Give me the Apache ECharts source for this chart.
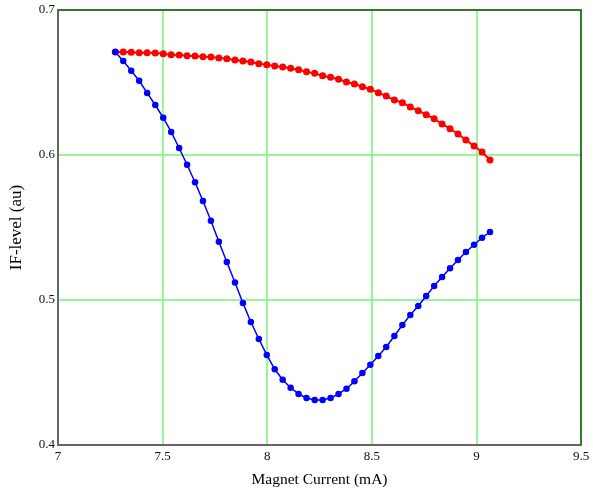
<!DOCTYPE html>
<html>
<head>
<meta charset="utf-8">
<script src="https://cdn.jsdelivr.net/npm/echarts@6/dist/echarts.min.js"></script>
<style>
html,body{margin:0;padding:0;background:#fff;}
#chart{width:593px;height:498px;}
</style>
</head>
<body>
<div id="chart"></div>
<script>
// Magnet current values (mA), shared by both sweeps
var current = [7.274,7.312,7.350,7.388,7.426,7.465,7.503,7.541,7.579,7.617,
  7.655,7.693,7.731,7.769,7.807,7.846,7.884,7.922,7.960,7.998,
  8.036,8.074,8.112,8.150,8.188,8.227,8.265,8.303,8.341,8.379,
  8.417,8.455,8.493,8.531,8.569,8.608,8.646,8.684,8.722,8.760,
  8.798,8.836,8.874,8.912,8.950,8.989,9.027,9.065];

// IF-level (au), red sweep
var ifRed = [0.6710,0.6710,0.6708,0.6706,0.6706,0.6703,0.6699,0.6692,0.6690,0.6685,
  0.6683,0.6678,0.6676,0.6669,0.6664,0.6655,0.6648,0.6641,0.6630,0.6623,
  0.6614,0.6607,0.6598,0.6588,0.6574,0.6563,0.6547,0.6536,0.6522,0.6503,
  0.6490,0.6471,0.6453,0.6430,0.6407,0.6379,0.6361,0.6331,0.6306,0.6278,
  0.6250,0.6214,0.6181,0.6145,0.6103,0.6062,0.6021,0.5966];

// IF-level (au), blue sweep
var ifBlue = [0.6710,0.6648,0.6581,0.6512,0.6428,0.6345,0.6257,0.6159,0.6048,0.5933,
  0.5812,0.5683,0.5547,0.5402,0.5262,0.5121,0.4979,0.4848,0.4731,0.4621,
  0.4522,0.4450,0.4395,0.4352,0.4324,0.4310,0.4310,0.4324,0.4352,0.4388,
  0.4439,0.4497,0.4554,0.4614,0.4676,0.4752,0.4828,0.4897,0.4959,0.5028,
  0.5097,0.5159,0.5219,0.5276,0.5331,0.5381,0.5430,0.5469];

var xTicks = [7, 9.5, 0.5];   // min, max, interval
var yTicks = [0.4, 0.7, 0.1];

function pairs(xs, ys){ return xs.map(function(x,i){ return [x, ys[i]]; }); }

var font = '"Liberation Serif","Times New Roman",serif';
var chart = echarts.init(document.getElementById('chart'), null, {renderer:'canvas'});
chart.setOption({
  animation:false,
  backgroundColor:'#ffffff',
  grid:{left:56.5, right:12, top:10, bottom:53, containLabel:false},
  xAxis:[{
    type:'value', min:xTicks[0], max:xTicks[1], interval:xTicks[2],
    name:'Magnet Current (mA)', nameLocation:'middle', nameGap:27,
    nameTextStyle:{fontFamily:font, fontSize:15.5, color:'#000'},
    axisLine:{show:true, onZero:false, lineStyle:{color:'#666', width:2}},
    axisTick:{show:false},
    axisLabel:{fontFamily:font, fontSize:13, color:'#111', margin:5,
      formatter:function(v){ return String(+v.toFixed(2)); }},
    splitLine:{show:true, lineStyle:{color:'#74f474', width:1.5}}
  },{
    type:'value', position:'top', min:xTicks[0], max:xTicks[1], interval:xTicks[2],
    axisLine:{show:true, onZero:false, lineStyle:{color:'#2e7a2e', width:2}},
    axisTick:{show:false}, axisLabel:{show:false}, splitLine:{show:false}
  }],
  yAxis:[{
    type:'value', min:yTicks[0], max:yTicks[1], interval:yTicks[2],
    name:'IF-level (au)', nameLocation:'middle', nameGap:33, nameRotate:90,
    nameTextStyle:{fontFamily:font, fontSize:17, color:'#000'},
    axisLine:{show:true, onZero:false, lineStyle:{color:'#666', width:2}},
    axisTick:{show:false},
    axisLabel:{fontFamily:font, fontSize:13, color:'#111', margin:3,
      formatter:function(v){ return String(+v.toFixed(2)); }},
    splitLine:{show:true, lineStyle:{color:'#74f474', width:1.5}}
  },{
    type:'value', position:'right', min:yTicks[0], max:yTicks[1], interval:yTicks[2],
    axisLine:{show:true, onZero:false, lineStyle:{color:'#2e7a2e', width:2}},
    axisTick:{show:false}, axisLabel:{show:false}, splitLine:{show:false}
  }],
  series:[{
    type:'line', name:'red', data:pairs(current, ifRed),
    symbol:'circle', symbolSize:7, showSymbol:true,
    lineStyle:{color:'#ff0000', width:2},
    itemStyle:{color:'#ff0000'}
  },{
    type:'line', name:'blue', data:pairs(current, ifBlue),
    symbol:'circle', symbolSize:6.5, showSymbol:true,
    lineStyle:{color:'#0000ff', width:1.5},
    itemStyle:{color:'#0000ff'}
  }]
});
</script>
</body>
</html>
